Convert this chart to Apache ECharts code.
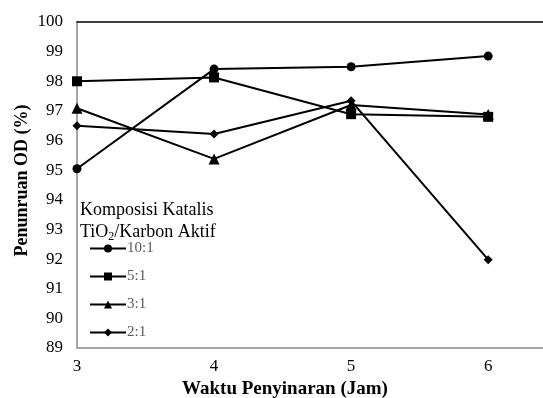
<!DOCTYPE html>
<html>
<head>
<meta charset="utf-8">
<script src="https://cdn.jsdelivr.net/npm/echarts@6/dist/echarts.min.js"></script>
<style>
  html, body { margin: 0; padding: 0; background: #fff; }
  #chart { width: 543px; height: 398px; }
</style>
</head>
<body>
<div id="chart"></div>
<script>
// waktu penyinaran (jam)
var waktu = [3, 4, 5, 6];
var seri = ['10:1', '5:1', '3:1', '2:1'];
var rasio10 = [95.05, 98.41, 98.49, 98.85];
var rasio5 = [98.0, 98.13, 96.89, 96.8];
var rasio3 = [97.09, 95.38, 97.2, 96.88];
var rasio2 = [96.5, 96.22, 97.34, 91.98];
var simbol = ['circle', 'rect', 'triangle', 'diamond'];
var ukuran = [9, 10, 11, 9];

var font = '"Liberation Serif", "Times New Roman", serif';
var chart = echarts.init(document.getElementById('chart'));

function pasangkan(vals) {
    return waktu.map(function (x, i) { return [x, vals[i]]; });
}

var semua = [rasio10, rasio5, rasio3, rasio2];
var series = semua.map(function (vals, i) {
    return {
        name: seri[i],
        type: 'line',
        data: pasangkan(vals),
        symbol: simbol[i],
        symbolSize: ukuran[i],
        lineStyle: {color: '#000', width: 2},
        itemStyle: {color: '#000'},
        animation: false
    };
});

chart.setOption({
    animation: false,
    textStyle: {fontFamily: font},
    grid: {left: 77, top: 22, right: 0, bottom: 50, containLabel: false, outerBoundsMode: 'none'},
    legend: {
        orient: 'vertical',
        left: 84,
        top: 236,
        itemWidth: 36,
        itemHeight: 10,
        itemGap: 13,
        data: seri,
        textStyle: {fontFamily: font, fontSize: 15, color: '#595959', padding: [0, 0, 0, -4]}
    },
    graphic: [{
        type: 'text',
        left: 80,
        top: 199,
        style: {
            text: 'Komposisi Katalis\nTiO{sub|2}/Karbon Aktif',
            font: '18px ' + font,
            fill: '#000',
            lineHeight: 22,
            rich: {sub: {fontSize: 12, fontFamily: font, verticalAlign: 'bottom', padding: [9, 0, 0, 0]}}
        }
    }],
    xAxis: [{
        type: 'value',
        min: 3,
        max: 6.4,
        interval: 1,
        name: 'Waktu Penyinaran (Jam)',
        nameLocation: 'middle',
        nameGap: 32,
        nameTextStyle: {fontFamily: font, fontSize: 19, fontWeight: 'bold', color: '#000', padding: [0, 50, 0, 0]},
        axisLine: {show: true, lineStyle: {color: '#a6a6a6', width: 2}},
        axisTick: {show: false},
        splitLine: {show: false},
        axisLabel: {
            fontFamily: font, fontSize: 17, color: '#000', margin: 10,
            formatter: function (v) { return v % 1 === 0 ? String(v) : ''; }
        }
    }, {
        type: 'value',
        position: 'top',
        min: 3,
        max: 6.4,
        axisLine: {show: true, onZero: false, lineStyle: {color: '#000', width: 1.5}},
        axisTick: {show: false},
        axisLabel: {show: false},
        splitLine: {show: false}
    }],
    yAxis: {
        type: 'value',
        min: 89,
        max: 100,
        interval: 1,
        name: 'Penunruan OD (%)',
        nameLocation: 'middle',
        nameGap: 46,
        nameMoveOverlap: false,
        nameTextStyle: {fontFamily: font, fontSize: 18, fontWeight: 'bold', color: '#000', padding: [0, 0, 0, 9]},
        axisLine: {show: true, lineStyle: {color: '#a6a6a6', width: 2}},
        axisTick: {show: false},
        splitLine: {show: false},
        axisLabel: {fontFamily: font, fontSize: 17, color: '#000', margin: 14}
    },
    series: series
});
</script>
</body>
</html>
